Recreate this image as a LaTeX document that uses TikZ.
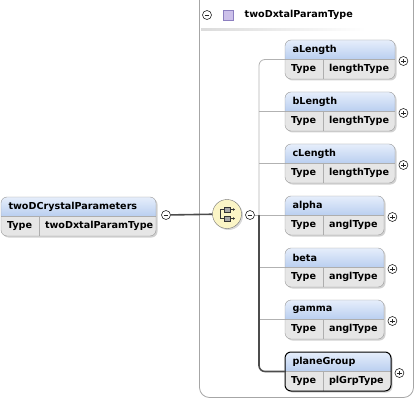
\documentclass[tikz,border=0pt]{standalone}
\usepackage{fontspec}
\setmainfont{DejaVu Sans}
\usetikzlibrary{arrows.meta,positioning,shadows}
\definecolor{hdrtop}{HTML}{E6EEFB}
\definecolor{hdrbot}{HTML}{BACFF0}
\definecolor{typerow}{HTML}{E6E6E6}
\definecolor{boxline}{HTML}{9A9A9A}
\definecolor{seqfill}{HTML}{FBF5C6}
\definecolor{cplx}{HTML}{CCC0EA}
\definecolor{cplxline}{HTML}{8C7FC0}

% element box: [border], name, left x, divider y, width, type
\newcommand{\elembox}[6][boxline]{%
  \begin{scope}[shift={(#3,#4)}]
    \fill[black!18,rounded corners=6pt] (1.5,-17.5) rectangle (#5+1.5,21.5);
    \fill[typerow,rounded corners=6pt] (0,-19) rectangle (#5,20);
    \begin{scope}
      \clip[rounded corners=6pt] (0,-19) rectangle (#5,20);
      \shade[top color=hdrtop,bottom color=hdrbot] (0,-19) rectangle (#5,0);
    \end{scope}
    \draw[boxline!80] (0,0) -- (#5,0) (38.5,0) -- (38.5,20);
    \draw[#1,rounded corners=6pt] (0,-19) rectangle (#5,20);
    \node[anchor=west] (#2-name) at (4,-9.5) {#2};
    \node[anchor=west] (#2-typekey) at (2.5,10) {Type};
    \node[anchor=west] (#2-type) at (40.5,10) {#6};
    \node[inner sep=0pt,minimum width=#5pt,minimum height=39pt,anchor=west] (#2) at (0,0.5) {};
  \end{scope}}

\begin{document}
\begin{tikzpicture}[x=1pt,y=-1pt,
  every node/.style={font=\fontsize{9.6}{11}\selectfont\bfseries},
  btn/.style={circle,draw=black!85,fill=white,minimum size=9pt,inner sep=0pt,line width=0.6pt},
  minusbtn/.style={btn,path picture={\draw[line width=0.7pt] ([xshift=-2.3pt]path picture bounding box.center) -- ([xshift=2.3pt]path picture bounding box.center);}},
  plusbtn/.style={btn,path picture={\draw[line width=0.7pt] ([xshift=-2.3pt]path picture bounding box.center) -- ([xshift=2.3pt]path picture bounding box.center) ([yshift=-2.3pt]path picture bounding box.center) -- ([yshift=2.3pt]path picture bounding box.center);}},
  branch/.style={draw=black!30,line width=0.8pt},
  active/.style={draw=black!70,line width=1.6pt}]
  \useasboundingbox (0,0) rectangle (419,403);

  % complex type frame
  \draw[black!35,line width=0.8pt,rounded corners=10pt] (199.5,0) -- (199.5,397.5) -- (413.5,397.5) -- (413.5,0);
  \node[minusbtn] (cplxminus) at (207,15) {};
  \node[draw=cplxline,fill=cplx,minimum size=10pt,inner sep=0pt,right=11pt of cplxminus] (cplxicon) {};
  \node[right=8pt of cplxicon] (cplxname) {twoDxtalParamType};
  \shade[left color=black!14,right color=white] (201,29) rectangle (366,30.5);

  % root element
  \elembox{twoDCrystalParameters}{1}{216}{155}{twoDxtalParamType}
  \node[minusbtn] (rootminus) at (166,215) {};

  % sequence compositor
  \node[circle,draw=black!55,fill=seqfill,minimum size=29pt,inner sep=0pt,
    drop shadow={opacity=0.3,shadow xshift=1.5pt,shadow yshift=-1.5pt}] (seq) at (227,214) {};
  \draw[black!80,line width=0.6pt] ([shift={(-7,-5)}]seq.center) -- ([shift={(-7,5)}]seq.center);
  \foreach \dy/\k in {-4.5/a,4.5/b} {
    \draw[black!80,line width=0.6pt,-{Latex[length=2pt,width=3pt]}] ([shift={(-7,\dy)}]seq.center) -- ([shift={(8,\dy)}]seq.center);
    \node[draw=black!80,fill=black!35,minimum width=6pt,minimum height=5pt,inner sep=0pt,line width=0.5pt] (seq\k) at ([shift={(0.5,\dy)}]seq.center) {};
  }
  \node[minusbtn] (seqminus) at (250,215) {};
  \draw[active] (rootminus) -- (seq);

  % child elements
  \elembox{aLength}{285}{59}{110}{lengthType}
  \elembox{bLength}{285}{111}{110}{lengthType}
  \elembox{cLength}{285}{163}{110}{lengthType}
  \elembox{alpha}{285}{215}{99}{anglType}
  \elembox{beta}{285}{267}{99}{anglType}
  \elembox{gamma}{285}{319}{99}{anglType}
  \elembox[black,line width=1pt]{planeGroup}{285}{371}{106}{plGrpType}
  \foreach \n in {aLength,bLength,cLength,alpha,beta,gamma,planeGroup}
    \node[plusbtn] (\n-plus) at ([xshift=8pt,yshift=-1.5pt]\n.east) {};

  % connectors
  \coordinate (spine) at (259,215);
  \draw[branch,rounded corners=6pt] (aLength.west) -| (spine);
  \foreach \n in {bLength,cLength,alpha,beta,gamma}
    \draw[branch] (\n.west) -- (\n.west -| spine);
  \draw[branch] (seqminus) -- (spine);
  \draw[active,rounded corners=6pt] (spine) |- (planeGroup.west);
\end{tikzpicture}
\end{document}
